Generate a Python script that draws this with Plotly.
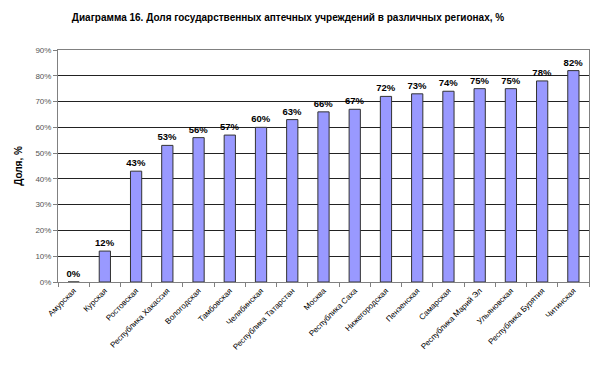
import plotly.graph_objects as go

regions = ["Амурская", "Курская", "Ростовская", "Республика Хакассия", "Вологодская",
           "Тамбовская", "Челябинская", "Республика Татарстан", "Москва", "Республика Саха",
           "Нижегородская", "Пензенская", "Самарская", "Республика Марий Эл", "Ульяновская",
           "Республика Бурятия", "Читинская"]
shares = [0, 12, 43, 53, 56, 57, 60, 63, 66, 67, 72, 73, 74, 75, 75, 78, 82]
y_ticks = [0, 10, 20, 30, 40, 50, 60, 70, 80, 90]
y_tick_labels = [f"{v}%" for v in y_ticks]

fig = go.Figure(go.Bar(
    x=regions, y=shares,
    marker=dict(color="#9999FF", line=dict(color="#333333", width=1)),
    text=[f"{v}%" for v in shares], textposition="outside",
    constraintext="none",
    textfont=dict(family="Liberation Sans, Arial", size=9.5, color="black", weight="bold"),
    cliponaxis=False,
))
fig.update_layout(
    width=592, height=365,
    margin=dict(l=44, r=10, t=42, b=91),
    paper_bgcolor="white", plot_bgcolor="white",
    bargap=0.64,
    showlegend=False,
    title=dict(text="<b>Диаграмма 16. Доля государственных аптечных учреждений в различных регионах, %</b>",
               x=0.473, xanchor="center", y=0.975, yanchor="middle",
               font=dict(family="Liberation Sans, Arial", size=10, color="black")),
    font=dict(family="Liberation Sans, Arial", size=8, color="black"),
)
fig.update_xaxes(
    tickangle=-45, tickfont=dict(size=8, color="black"),
    showline=True, linecolor="#808080", linewidth=1, mirror=True,
    ticks="outside", ticklen=4, tickcolor="#808080", tickson="boundaries",
    showgrid=False, automargin=False,
)
fig.update_yaxes(
    range=[0, 90], tickvals=y_ticks, ticktext=y_tick_labels,
    tickfont=dict(size=8, color="#555555"),
    showline=True, linecolor="#808080", linewidth=1, mirror=True,
    ticks="outside", ticklen=4, tickcolor="#808080",
    showgrid=True, gridcolor="#222222", gridwidth=1,
    title=dict(text="<b>Доля, %</b>", font=dict(size=10, color="black"), standoff=10),
)
fig.write_html("out.html")
